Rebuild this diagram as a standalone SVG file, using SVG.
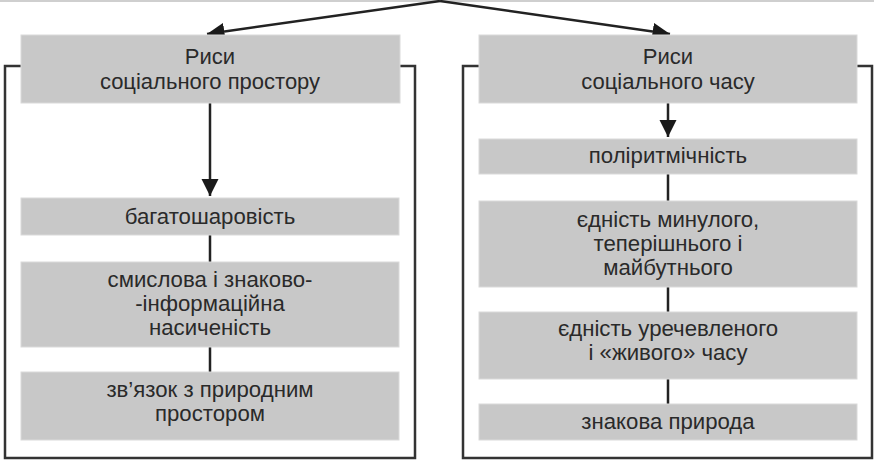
<svg xmlns="http://www.w3.org/2000/svg" width="874" height="461" viewBox="0 0 874 461">
<style>
.box{fill:#c8c8c8;stroke:#dadada;stroke-width:1}
.frame{fill:none;stroke:#333;stroke-width:2.5}
.ln{fill:none;stroke:#222;stroke-width:2.5}
text{font-family:"Liberation Sans",Arial,sans-serif;font-size:22.2px;fill:#2a2a2a;text-anchor:middle}
.hd{font-size:22px}
</style>
<defs>
<marker id="ah" viewBox="0 0 10 10" refX="10" refY="5" markerWidth="7" markerHeight="7" markerUnits="strokeWidth" orient="auto">
<path d="M0,0 L10,5 L0,10 Z" fill="#1a1a1a"/>
</marker>
</defs>
<rect x="0" y="0" width="874" height="2" fill="#cfcfcf"/>
<g id="frames">
<path class="frame" d="M21,66 H5 V458 H415 V66 H400"/>
<path class="frame" d="M479,66 H463 V458 H872 V66 H857"/>
</g>
<g id="connectors">
<path class="ln" d="M440,1 L207,34" marker-end="url(#ah)"/>
<path class="ln" d="M440,1 L670,34" marker-end="url(#ah)"/>
<path class="ln" d="M210,103 V196" marker-end="url(#ah)"/>
<path class="ln" d="M668,103 V137" marker-end="url(#ah)"/>
<path class="ln" d="M210,235 V262 M210,347 V372"/>
<path class="ln" d="M668,174 V201 M668,287 V312 M668,379 V404"/>
</g>
<g id="space-header">
<rect class="box" x="21" y="35" width="379" height="68"/>
<text class="hd" x="210" y="64">Риси</text>
<text class="hd" x="210" y="89">соціального простору</text>
</g>
<g id="time-header">
<rect class="box" x="479" y="35" width="378" height="68"/>
<text class="hd" x="668" y="64">Риси</text>
<text class="hd" x="668" y="89">соціального часу</text>
</g>
<g id="s1">
<rect class="box" x="21" y="198" width="378" height="37"/>
<text x="210" y="224">багатошаровість</text>
</g>
<g id="s2">
<rect class="box" x="21" y="262" width="378" height="85"/>
<text x="210" y="287">смислова і знаково-</text>
<text x="210" y="311">-інформаційна</text>
<text x="210" y="335">насиченість</text>
</g>
<g id="s3">
<rect class="box" x="21" y="372" width="378" height="68"/>
<text x="210" y="397">зв’язок з природним</text>
<text x="210" y="421">простором</text>
</g>
<g id="t1">
<rect class="box" x="479" y="139" width="378" height="35"/>
<text x="668" y="163">поліритмічність</text>
</g>
<g id="t2">
<rect class="box" x="479" y="201" width="378" height="86"/>
<text x="668" y="227">єдність минулого,</text>
<text x="668" y="251">теперішнього і</text>
<text x="668" y="275">майбутнього</text>
</g>
<g id="t3">
<rect class="box" x="479" y="312" width="378" height="67"/>
<text x="668" y="336">єдність уречевленого</text>
<text x="668" y="360">і «живого» часу</text>
</g>
<g id="t4">
<rect class="box" x="479" y="404" width="378" height="36"/>
<text x="668" y="429">знакова природа</text>
</g>
</svg>
